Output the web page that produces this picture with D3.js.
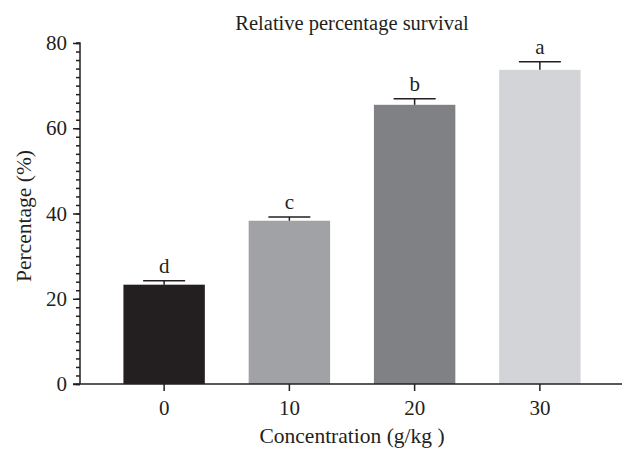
<!DOCTYPE html>
<html>
<head>
<meta charset="utf-8">
<script src="https://cdn.jsdelivr.net/npm/d3@7"></script>
<style>
  body { margin: 0; background: #fff; }
  svg text { font-family: "Liberation Serif", "DejaVu Serif", serif; fill: #231f20; }
</style>
</head>
<body>
<svg id="chart" width="622" height="449"></svg>
<script>
// Chart data
const categories = ["0", "10", "20", "30"];
const means = [23.3, 38.3, 65.5, 73.7];
const errors = [0.9, 0.9, 1.4, 1.9];
const letters = ["d", "c", "b", "a"];
const barColors = ["#231f20", "#a1a2a6", "#808184", "#d3d4d8"];
const yTicks = [0, 20, 40, 60, 80];

const svg = d3.select("#chart");
const ink = "#231f20";

// Scales
const x = d3.scaleBand()
  .domain(categories)
  .range([101.5, 602.5])
  .paddingInner(0.35)
  .paddingOuter(0.175);

const y = d3.scaleLinear()
  .domain([0, 80])
  .range([384, 43]);

const axisLeftX = 80;

// Bars
svg.selectAll("rect.bar")
  .data(categories)
  .join("rect")
  .attr("class", "bar")
  .attr("x", (d) => x(d))
  .attr("width", x.bandwidth())
  .attr("y", (d, i) => y(means[i]))
  .attr("height", (d, i) => y(0) - y(means[i]))
  .attr("fill", (d, i) => barColors[i]);

// Error bars (upper only)
const capHalf = 21;
const err = svg.append("g")
  .attr("stroke", ink)
  .attr("stroke-width", 1.5);

categories.forEach((c, i) => {
  const cx = x(c) + x.bandwidth() / 2;
  err.append("line")
    .attr("x1", cx).attr("x2", cx)
    .attr("y1", y(means[i])).attr("y2", y(means[i] + errors[i]));
  err.append("line")
    .attr("x1", cx - capHalf).attr("x2", cx + capHalf)
    .attr("y1", y(means[i] + errors[i])).attr("y2", y(means[i] + errors[i]));
});

// Significance letters
svg.selectAll("text.letter")
  .data(categories)
  .join("text")
  .attr("class", "letter")
  .attr("x", (d) => x(d) + x.bandwidth() / 2)
  .attr("y", (d, i) => y(means[i] + errors[i]) - 8)
  .attr("text-anchor", "middle")
  .style("font-size", "21px")
  .text((d, i) => letters[i]);

// Y axis with minor ticks
const yAxis = svg.append("g")
  .attr("transform", `translate(${axisLeftX},0)`)
  .call(d3.axisLeft(y).tickValues(d3.range(0, 81, 2)).tickSize(4).tickFormat(""));
yAxis.selectAll("line, path").attr("stroke", ink).attr("stroke-width", 1.5);
yAxis.select(".domain").attr("d", `M-4,${y(80)}H0V${y(0)}`);

const yMajor = svg.append("g")
  .attr("transform", `translate(${axisLeftX},0)`)
  .call(d3.axisLeft(y).tickValues(yTicks).tickSize(7).tickPadding(6));
yMajor.select(".domain").remove();
yMajor.selectAll("line").attr("stroke", ink).attr("stroke-width", 1.5);
yMajor.selectAll("text")
  .style("font-size", "21px")
  .attr("font-family", null);

// X axis
const xAxis = svg.append("g")
  .attr("transform", `translate(0,${y(0)})`)
  .call(d3.axisBottom(x).tickSize(7).tickPadding(9).tickSizeOuter(0));
xAxis.select(".domain").attr("d", `M73,0H622`);
xAxis.selectAll("line, path").attr("stroke", ink).attr("stroke-width", 1.5);
xAxis.selectAll("text")
  .style("font-size", "21px")
  .attr("font-family", null);

// Title and axis labels
svg.append("text")
  .attr("x", 352)
  .attr("y", 30)
  .attr("text-anchor", "middle")
  .style("font-size", "20.5px")
  .text("Relative percentage survival");

svg.append("text")
  .attr("x", 352)
  .attr("y", 443)
  .attr("text-anchor", "middle")
  .style("font-size", "21.5px")
  .text("Concentration (g/kg )");

svg.append("text")
  .attr("transform", "translate(31,216) rotate(-90)")
  .attr("text-anchor", "middle")
  .style("font-size", "21.5px")
  .text("Percentage (%)");
</script>
</body>
</html>
